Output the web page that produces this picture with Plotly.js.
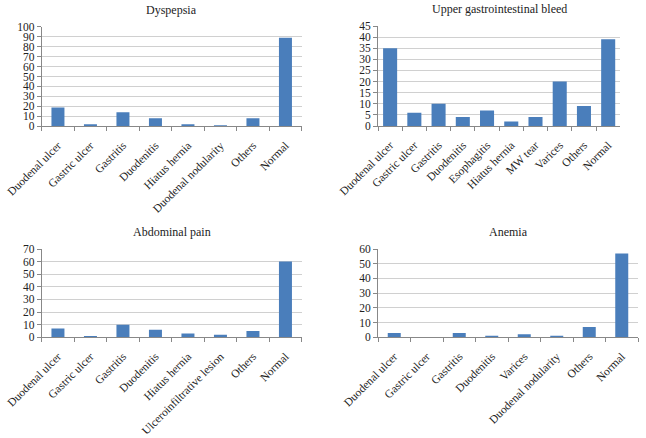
<!DOCTYPE html>
<html><head><meta charset="utf-8">
<script src="https://cdn.plot.ly/plotly-3.0.1.min.js"></script>
<style>html,body{margin:0;padding:0;background:#fff}#c{width:646px;height:438px}</style>
</head><body><div id="c"></div>
<script>
const dysCats = ["Duodenal ulcer","Gastric ulcer","Gastritis","Duodenitis","Hiatus hernia","Duodenal nodularity","Others","Normal"];
const dysVals = [19,2,14,8,2,1,8,89];
const ugibCats = ["Duodenal ulcer","Gastric ulcer","Gastritis","Duodenitis","Esophagitis","Hiatus hernia","MW tear","Varices","Others","Normal"];
const ugibVals = [35,6,10,4,7,2,4,20,9,39];
const abdCats = ["Duodenal ulcer","Gastric ulcer","Gastritis","Duodenitis","Hiatus hernia","Ulceroinfiltrative lesion","Others","Normal"];
const abdVals = [7,1,10,6,3,2,5,60];
const anCats = ["Duodenal ulcer","Gastric ulcer","Gastritis","Duodenitis","Varices","Duodenal nodularity","Others","Normal"];
const anVals = [3,0,3,1,2,1,7,57];
const titles = ["Dyspepsia","Upper gastrointestinal bleed","Abdominal pain","Anemia"];

const W=646,H=438;
const barColor="#4a7ebb";
const FONT={family:"Liberation Serif, Times New Roman, serif",size:11.5,color:"#222"};
function px(x){return x/W;} function py(y){return 1-y/H;}
const boxes=[
 {x0:41.7,x1:301.7,y0:126.3,y1:26.7,max:100,dt:10,w:0.4},
 {x0:378,x1:620.3,y0:126,y1:26,max:45,dt:5,w:0.58},
 {x0:41.7,x1:301.7,y0:337.3,y1:249,max:70,dt:10,w:0.4},
 {x0:378,x1:638,y0:337.3,y1:249,max:60,dt:10,w:0.4}
];
const cats=[dysCats,ugibCats,abdCats,anCats];
const vals=[dysVals,ugibVals,abdVals,anVals];
const data=[];const layout={width:W,height:H,margin:{l:0,r:0,t:0,b:0},showlegend:false,
 paper_bgcolor:"#fff",plot_bgcolor:"#fff",font:FONT,annotations:[]};
boxes.forEach((b,i)=>{
 const s=i===0?"":String(i+1);
 data.push({type:"bar",x:cats[i],y:vals[i],xaxis:"x"+s,yaxis:"y"+s,marker:{color:barColor},width:b.w,hoverinfo:"x+y"});
 layout["xaxis"+s]={domain:[px(b.x0),px(b.x1)],anchor:"y"+s,type:"category",tickangle:-45,
   ticks:"outside",tickson:"boundaries",ticklen:4,tickcolor:"#888",showline:true,linecolor:"#888",
   ticklabelstandoff:7,showgrid:false,tickfont:FONT,automargin:false,fixedrange:true};
 layout["yaxis"+s]={domain:[py(b.y0),py(b.y1)],anchor:"x"+s,range:[0,b.max],dtick:b.dt,tick0:0,
   ticks:"outside",ticklen:4,tickcolor:"#888",showline:true,linecolor:"#888",
   showgrid:true,gridcolor:"#d0d0d0",gridwidth:1,zeroline:false,tickfont:Object.assign({},FONT,{size:11.5}),automargin:false,fixedrange:true};
 layout.annotations.push({text:titles[i],xref:"paper",yref:"paper",x:px((b.x0+b.x1)/2),y:py(b.y1-17),
   xanchor:"center",yanchor:"middle",showarrow:false,font:Object.assign({},FONT,{size:12})});
});
Plotly.newPlot("c",data,layout,{displayModeBar:false,staticPlot:true});
</script></body></html>
